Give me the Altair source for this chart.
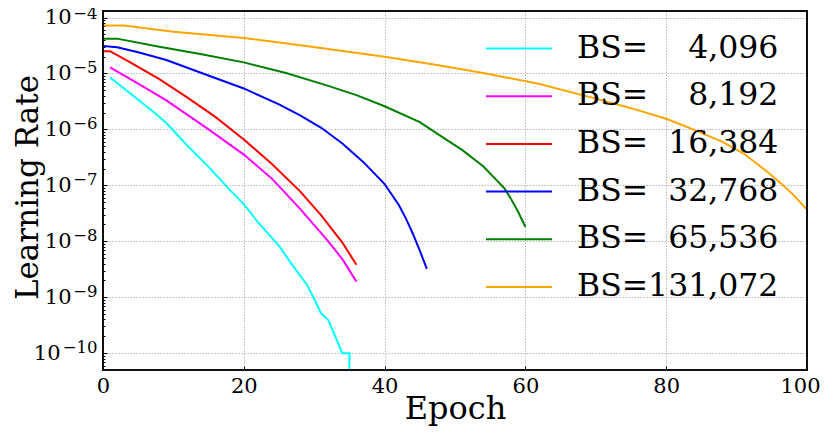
import altair as alt
import pandas as pd

FONT = "DejaVu Serif"

series_names = [
    "BS=\u2007\u20074,096",
    "BS=\u2007\u20078,192",
    "BS=\u200716,384",
    "BS=\u200732,768",
    "BS=\u200765,536",
    "BS=131,072",
]
series_colors = ["#00FFFF", "#FF00FF", "#FF0000", "#0000FF", "#008000", "#FFA500"]

epoch_4096 = [1, 5, 7, 9, 12, 15, 18, 20, 22, 25, 27, 29, 30, 31, 32, 34, 35, 35]
lr_4096 = [8.5e-6, 3.4e-6, 2.14e-6, 1.3e-6, 5.1e-7, 2.14e-7, 8.3e-8, 4.6e-8, 2.2e-8,
           8.3e-9, 3.6e-9, 1.66e-9, 9.3e-10, 5.1e-10, 3.9e-10, 1.0e-10, 1.0e-10, 1e-12]

epoch_8192 = [1, 5, 9, 12, 15, 20, 24, 28, 32, 34, 36]
lr_8192 = [1.29e-5, 6.6e-6, 3.3e-6, 1.82e-6, 1.0e-6, 3.55e-7, 1.32e-7, 3.8e-8,
           1.0e-8, 4.8e-9, 1.9e-9]

epoch_16384 = [0, 1, 4, 8, 12, 16, 20, 24, 28, 31, 34, 36]
lr_16384 = [2.5e-5, 2.5e-5, 1.55e-5, 7.9e-6, 3.7e-6, 1.66e-6, 6.6e-7, 2.4e-7,
            7.8e-8, 2.9e-8, 9.5e-9, 3.8e-9]

epoch_32768 = [0, 2, 5, 9, 14, 20, 25, 28, 31, 34, 37, 40, 42, 43, 44, 45, 46]
lr_32768 = [3.1e-5, 2.95e-5, 2.4e-5, 1.74e-5, 1.02e-5, 5.4e-6, 2.8e-6, 1.78e-6,
            1.07e-6, 5.6e-7, 2.6e-7, 1.05e-7, 4.5e-8, 2.6e-8, 1.38e-8, 6.8e-9, 3.2e-9]

epoch_65536 = [0, 2, 8, 14, 20, 26, 32, 36, 40, 45, 48, 51, 54, 56, 57, 58, 59, 60]
lr_65536 = [4.2e-5, 4.2e-5, 3.0e-5, 2.2e-5, 1.58e-5, 1.02e-5, 6.0e-6, 4.1e-6,
            2.6e-6, 1.35e-6, 7.6e-7, 4.3e-7, 2.2e-7, 1.2e-7, 8.9e-8, 5.6e-8,
            3.3e-8, 1.8e-8]

epoch_131072 = [0, 3, 10, 20, 28, 32, 40, 47, 54, 62, 70, 75, 80, 84, 88, 91, 94,
                96, 98, 100]
lr_131072 = [7.2e-5, 7.2e-5, 5.6e-5, 4.3e-5, 3.2e-5, 2.75e-5, 2.0e-5, 1.45e-5,
             1.02e-5, 6.5e-6, 3.55e-6, 2.4e-6, 1.55e-6, 9.8e-7, 6.0e-7, 3.7e-7,
             1.9e-7, 1.17e-7, 6.9e-8, 3.7e-8]

x_ticks = [0, 20, 40, 60, 80, 100]
y_ticks = [1e-10, 1e-9, 1e-8, 1e-7, 1e-6, 1e-5, 1e-4]
y_tick_base = "10"
y_tick_exponents = ["\u221210", "\u22129", "\u22128", "\u22127", "\u22126", "\u22125", "\u22124"]
y_minor_ticks = [m * 10.0 ** k for k in range(-11, -4) for m in range(2, 10)]
y_minor_ticks = [v for v in y_minor_ticks if 5e-11 <= v <= 1.31e-4]

all_epochs = [epoch_4096, epoch_8192, epoch_16384, epoch_32768, epoch_65536, epoch_131072]
all_lrs = [lr_4096, lr_8192, lr_16384, lr_32768, lr_65536, lr_131072]

rows = []
for name, eps, lrs in zip(series_names, all_epochs, all_lrs):
    for i, (e, v) in enumerate(zip(eps, lrs)):
        rows.append({"series": name, "epoch": e, "lr": v, "idx": i})
df = pd.DataFrame(rows)

W, H = 704, 359

exp_array = "[" + ",".join("'" + s + "'" for s in y_tick_exponents) + "]"
exp_expr = exp_array + "[round(log(datum.value)/LN10)+10]"

y_scale = alt.Scale(type="log", domain=[5e-11, 1.31e-4], nice=False)
x_scale = alt.Scale(domain=[0, 100], nice=False)

x_enc = alt.X(
    "epoch:Q",
    scale=x_scale,
    axis=alt.Axis(
        values=x_ticks, title="Epoch", orient="bottom", offset=-4, tickSize=4,
        domain=False, tickColor="black", tickWidth=1, labelColor="black", labelFont=FONT,
        labelFontSize=21, labelPadding=5, labelFlush=False, titleFont=FONT,
        titleFontSize=32, titleFontWeight="normal", titleColor="black",
        titleBaseline="alphabetic", titleY=52, grid=True, gridColor="#b8b8b8",
        gridDash=[1.5, 1.5], gridWidth=1,
        labelOffset={"condition": {"test": "datum.value >= 100", "value": -7}, "value": 0},
    ),
)

main = alt.Chart(df).mark_line(clip=True, strokeWidth=2).encode(
    x=x_enc,
    y=alt.Y(
        "lr:Q",
        scale=y_scale,
        axis=alt.Axis(
            values=y_ticks, labelExpr="'" + y_tick_base + "'", title="Learning Rate",
            orient="left", offset=-4, tickSize=4, tickWidth=1, domain=False,
            tickColor="black", labelColor="black", labelFont=FONT, labelFontSize=21,
            labelFlush=False, titleFont=FONT, titleFontSize=31,
            titleFontWeight="normal", titleColor="black", titleAngle=270,
            titleAlign="center", titleBaseline="alphabetic", titleX=-70, titleY=176,
            grid=True, gridColor="#b8b8b8", gridDash=[1.5, 1.5], gridWidth=1,
            labelPadding={"condition": {"test": "datum.value < 5e-10", "value": 43}, "value": 32},
        ),
    ),
    color=alt.Color(
        "series:N",
        scale=alt.Scale(domain=series_names, range=series_colors),
        sort=series_names,
        legend=alt.Legend(
            title=None, orient="none", legendX=382, legendY=22, padding=0,
            symbolType="stroke", symbolSize=4356, symbolStrokeWidth=2,
            clipHeight=31, rowPadding=15.7, labelFont=FONT, labelFontSize=31.5,
            labelColor="black", labelOffset=24, labelLimit=400,
        ),
    ),
    order="idx:Q",
)

exponents = alt.Chart(df).mark_line(opacity=0).encode(
    x=x_enc,
    y=alt.Y(
        "lr:Q",
        scale=y_scale,
        axis=alt.Axis(
            values=y_ticks, labelExpr=exp_expr, title=None, orient="left", offset=-4,
            tickSize=4, tickOpacity=0, domain=False, grid=False, labelColor="black",
            labelFont=FONT, labelFontSize=16.5, labelPadding=6, labelFlush=False,
            labelOffset={"condition": {"test": "datum.value > 5e-5", "value": -4}, "value": -5.5},
        ),
    ),
    detail="series:N",
    order="idx:Q",
)

minor = alt.Chart(df).mark_line(opacity=0).encode(
    x=x_enc,
    y=alt.Y(
        "lr:Q",
        scale=y_scale,
        axis=alt.Axis(
            values=y_minor_ticks, labels=False, title=None, orient="left", offset=-2,
            tickSize=2, tickWidth=1, domain=False, grid=False, tickColor="black",
        ),
    ),
    detail="series:N",
    order="idx:Q",
)

frame = alt.Chart(df).mark_rect(fill=None, stroke="#111", strokeWidth=1.8).encode(
    x=alt.value(0), x2=alt.value(W), y=alt.value(0), y2=alt.value(H)
)

chart = (
    alt.layer(main, exponents, minor, frame)
    .resolve_axis(y="independent")
    .properties(
        width=W,
        height=H,
        autosize=alt.AutoSizeParams(type="none"),
        padding={"left": 95, "top": 3, "right": 15, "bottom": 56},
    )
    .configure_view(stroke=None)
)

chart.save("out.html", embed_options={"renderer": "svg", "actions": False})
